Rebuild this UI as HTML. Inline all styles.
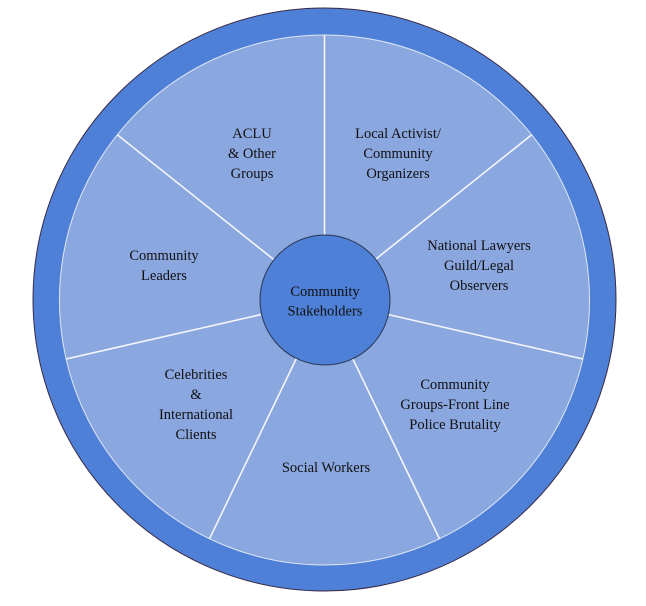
<!DOCTYPE html>
<html><head><meta charset="utf-8"><style>
html,body{margin:0;padding:0;background:#fff;}
svg{display:block;}
text{font-family:"Liberation Serif",serif;font-size:14.5px;fill:#111;text-anchor:middle;}
</style></head><body>
<svg width="646" height="606" viewBox="0 0 646 606" xmlns="http://www.w3.org/2000/svg">
<circle cx="324.5" cy="299.5" r="291.5" fill="#4d80d6" stroke="#3a2a45" stroke-width="1"/>
<circle cx="324.5" cy="300" r="265" fill="#8ba7e0" stroke="#dfe6f5" stroke-width="1"/>
<g stroke="#f4f6fc" stroke-width="1.6">
<line x1="324.5" y1="235" x2="324.5" y2="35"/>
<line x1="375.3" y1="259.5" x2="531.7" y2="134.8"/>
<line x1="387.9" y1="314.5" x2="582.9" y2="359"/>
<line x1="352.7" y1="358.6" x2="439.5" y2="538.8"/>
<line x1="296.3" y1="358.6" x2="209.5" y2="538.8"/>
<line x1="261.1" y1="314.5" x2="66.1" y2="359"/>
<line x1="273.7" y1="259.5" x2="117.3" y2="134.8"/>
</g>
<circle cx="325" cy="300" r="65" fill="#4d80d6" stroke="#2a3550" stroke-width="1"/>
<text x="325" y="296">Community</text>
<text x="325" y="315.5">Stakeholders</text>
<text x="252" y="138">ACLU</text>
<text x="252" y="158">&amp; Other</text>
<text x="252" y="178">Groups</text>
<text x="398" y="138">Local Activist/</text>
<text x="398" y="158">Community</text>
<text x="398" y="178">Organizers</text>
<text x="164" y="260">Community</text>
<text x="164" y="280">Leaders</text>
<text x="479" y="250">National Lawyers</text>
<text x="479" y="270">Guild/Legal</text>
<text x="479" y="290">Observers</text>
<text x="196" y="379">Celebrities</text>
<text x="196" y="399">&amp;</text>
<text x="196" y="419">International</text>
<text x="196" y="439">Clients</text>
<text x="455" y="389">Community</text>
<text x="455" y="409">Groups-Front Line</text>
<text x="455" y="429">Police Brutality</text>
<text x="326" y="472">Social Workers</text>
</svg>
</body></html>
